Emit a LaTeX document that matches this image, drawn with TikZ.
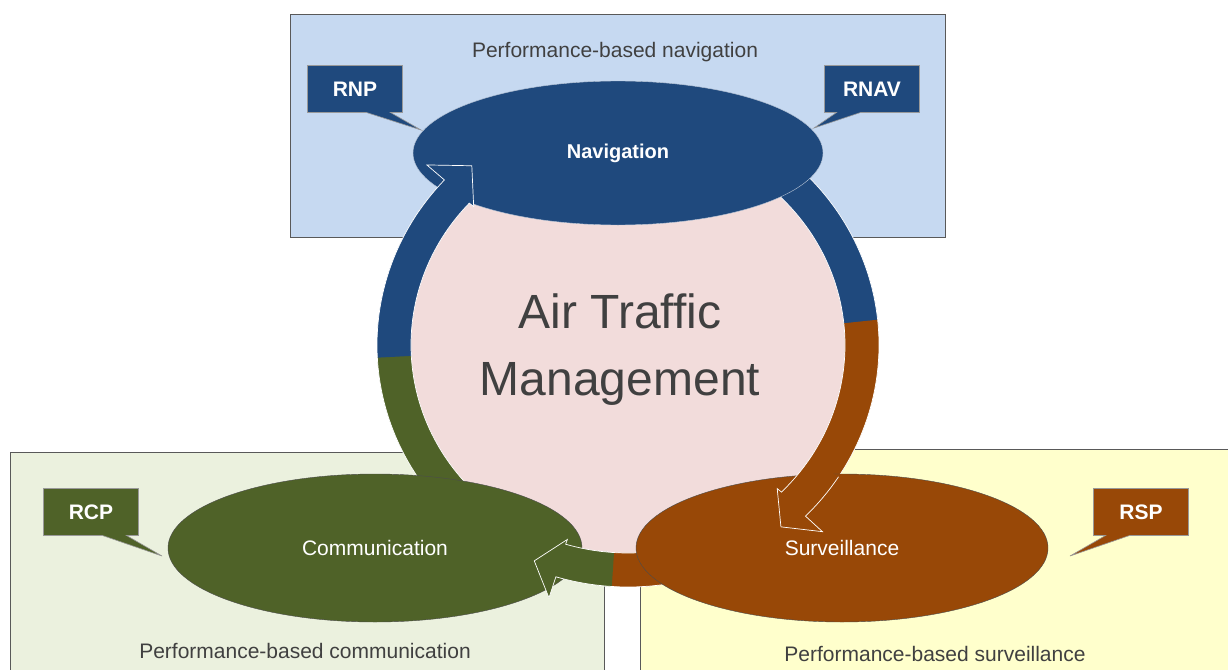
\documentclass[tikz,border=0pt]{standalone}
\usepackage{fontspec}
\setmainfont{Liberation Sans}
\usetikzlibrary{shapes.geometric,shapes.callouts}

\definecolor{navblue}{HTML}{1F497D}
\definecolor{comgreen}{HTML}{4F6228}
\definecolor{survrust}{HTML}{984807}
\definecolor{atmpink}{HTML}{F2DCDB}
\definecolor{navbg}{HTML}{C6D9F1}
\definecolor{combg}{HTML}{EBF1DE}
\definecolor{survbg}{HTML}{FFFFCC}

\tikzstyle{areabox} = [draw=black!65, line width=0.8pt, rectangle, anchor=north west, inner sep=0pt]
\tikzstyle{areatitle} = [text=black!75, font=\fontsize{21}{25}\selectfont]
\tikzstyle{tag} = [rectangle callout, draw=black!40, line width=0.6pt, text=white, font=\bfseries\fontsize{21}{25}\selectfont, minimum width=95pt, minimum height=47pt, inner sep=0pt, callout pointer width=24pt]
\tikzstyle{cnsnode} = [ellipse, inner sep=0pt, text=white, font=\fontsize{21}{25}\selectfont]
\tikzstyle{ringedge} = [draw=white, line width=0.7pt]

% one coloured piece of the ring (angles are for the flipped y axis)
\newcommand{\ringseg}[3]{%
  \fill[#1] (#2:251 and 242) arc[start angle=#2, end angle=#3, x radius=251, y radius=242]
    -- (#3:217 and 208) arc[start angle=#3, end angle=#2, x radius=217, y radius=208] -- cycle;
  \draw[ringedge] (#2:251 and 242) arc[start angle=#2, end angle=#3, x radius=251, y radius=242];
  \draw[ringedge] (#2:217 and 208) arc[start angle=#2, end angle=#3, x radius=217, y radius=208];}
% last piece of the ring with its arrow head
\newcommand{\ringhead}[4]{%
  \filldraw[fill=#1, ringedge] (#2:251 and 242) arc[start angle=#2, end angle=#3, x radius=251, y radius=242]
    -- (#3:275 and 264) -- (#4:243 and 234) -- (#3:211 and 203) -- (#3:217 and 208)
    arc[start angle=#3, end angle=#2, x radius=217, y radius=208];}

\begin{document}
\begin{tikzpicture}[x=1pt,y=-1pt]
\path[use as bounding box, fill=white] (0,0) rectangle (1228,669);

% performance-based areas
\node[areabox, fill=navbg, minimum width=655pt, minimum height=223pt] (navarea) at (290,14) {};
\node[areabox, fill=combg, minimum width=594pt, minimum height=240pt] (comarea) at (10,452) {};
\node[areabox, fill=survbg, minimum width=600pt, minimum height=240pt] (survarea) at (640,449) {};
\node[areatitle] (navtitle) at (615,52) {Performance-based navigation};
\node[areatitle] (comtitle) at (305,651) {Performance-based communication};
\node[areatitle] (survtitle) at (935,654) {Performance-based surveillance};

% specifications
\node[tag, fill=navblue, callout absolute pointer={(421,130)}] (rnp) at (355,89) {RNP};
\node[tag, fill=navblue, callout absolute pointer={(814,128)}] (rnav) at (872,89) {RNAV};
\node[tag, fill=comgreen, callout absolute pointer={(162,556)}] (rcp) at (91,512) {RCP};
\node[tag, fill=survrust, callout absolute pointer={(1070,556)}] (rsp) at (1141,512) {RSP};

% centre
\node[ellipse, fill=atmpink, minimum width=438pt, minimum height=420pt] (atmdisk) at (628,345) {};

\begin{scope}[shift={(atmdisk.center)}]
  \ringseg{comgreen}{-228}{-182}
  \ringseg{navblue}{-183}{-146}
  \ringseg{navblue}{-62}{-5}
  \ringseg{survrust}{-6}{36}
  \ringseg{survrust}{70}{94.7}
  \ringseg{comgreen}{93.7}{98}
\end{scope}

\node[cnsnode, fill=navblue, draw=white!70!navblue, thin, minimum width=410pt, minimum height=144pt, font=\bfseries\fontsize{20}{24}\selectfont] (nav) at (618,153) {Navigation};
\node[cnsnode, fill=comgreen, draw=black!70, thin, minimum width=414pt, minimum height=148pt] (com) at (375,548) {Communication};
\node[cnsnode, fill=survrust, draw=black!70, thin, minimum width=412pt, minimum height=148pt] (surv) at (842,548) {Surveillance};

\begin{scope}[shift={(atmdisk.center)}]
  \ringhead{navblue}{-149}{-137}{-130}
  \ringhead{survrust}{33}{45}{51}
  \ringhead{comgreen}{95}{106.7}{112.7}
\end{scope}

\node[text=black!75, align=center, font=\fontsize{48}{67}\selectfont] (atm) at (620,350) {Air Traffic\\Management};
\end{tikzpicture}
\end{document}
